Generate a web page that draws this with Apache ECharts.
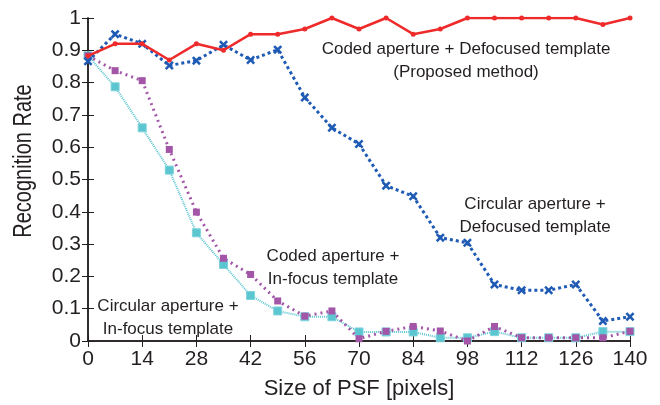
<!DOCTYPE html>
<html>
<head>
<meta charset="utf-8">
<script src="https://cdn.jsdelivr.net/npm/echarts@6/dist/echarts.min.js"></script>
<style>
  html, body { margin: 0; padding: 0; background: #fff; }
  #chart { width: 660px; height: 405px; }
</style>
</head>
<body>
<div id="chart"></div>
<script>
// PSF sizes (pixels)
const psf = [0, 7, 14, 21, 28, 35, 42, 49, 56, 63, 70, 77, 84, 91, 98, 105, 112, 119, 126, 133, 140];

// recognition rates
const codedDefocused = [0.883, 0.92, 0.92, 0.87, 0.92, 0.90, 0.95, 0.95, 0.966, 1.0, 0.966, 1.0, 0.95, 0.966, 1.0, 1.0, 1.0, 1.0, 1.0, 0.98, 1.0];
const circularDefocused = [0.866, 0.95, 0.92, 0.853, 0.868, 0.917, 0.87, 0.902, 0.754, 0.66, 0.61, 0.481, 0.448, 0.32, 0.304, 0.175, 0.157, 0.157, 0.175, 0.062, 0.075];
const codedInFocus = [0.883, 0.837, 0.806, 0.593, 0.399, 0.256, 0.206, 0.124, 0.077, 0.093, 0.007, 0.03, 0.045, 0.031, 0.0, 0.045, 0.01, 0.01, 0.01, 0.01, 0.03];
const circularInFocus = [0.883, 0.787, 0.66, 0.529, 0.335, 0.237, 0.141, 0.093, 0.075, 0.075, 0.028, 0.028, 0.028, 0.01, 0.01, 0.029, 0.01, 0.01, 0.01, 0.029, 0.029];

// annotation texts
const notes = [
    'Coded aperture + Defocused template\n(Proposed method)',
    'Circular aperture +\nDefocused template',
    'Coded aperture +\nIn-focus template',
    'Circular aperture +\nIn-focus template'
];

const font = 'Liberation Sans, Arial, sans-serif';
const ink = '#231f20';

function pairs(vals) {
    return psf.map((x, i) => [x, vals[i]]);
}

const chart = echarts.init(document.getElementById('chart'));

const crossPath = 'path://M2,0L5,3L8,0L10,2L7,5L10,8L8,10L5,7L2,10L0,8L3,5L0,2Z';

function note(text, x, y) {
    return {
        type: 'text', x: x, y: y, z: 10,
        style: { text: text, textAlign: 'center', textVerticalAlign: 'top',
            font: '17px ' + font, fill: ink, lineHeight: 23 }
    };
}

chart.setOption({
    animation: false,
    backgroundColor: '#fff',
    grid: { left: 88, right: 30, top: 18, bottom: 63, containLabel: false },
    xAxis: [{
        type: 'value', min: 0, max: 140, interval: 14,
        name: 'Size of PSF [pixels]', nameLocation: 'middle', nameGap: 37,
        nameTextStyle: { fontFamily: font, fontSize: 22, color: ink },
        axisLine: { lineStyle: { color: ink, width: 1.5 } },
        axisTick: { inside: true, length: 6, lineStyle: { color: ink } },
        axisLabel: { fontFamily: font, fontSize: 21, color: ink, margin: 8 },
        splitLine: { show: false }
    }, {
        type: 'value', min: 0, max: 140, interval: 14, position: 'top',
        axisLine: { lineStyle: { color: ink, width: 1.5 } },
        axisTick: { inside: true, length: 6, lineStyle: { color: ink } },
        axisLabel: { show: false },
        splitLine: { show: false }
    }],
    yAxis: [{
        type: 'value', min: 0, max: 1, interval: 0.1,
        axisLine: { show: true, lineStyle: { color: ink, width: 1.5 } },
        axisTick: { show: true, inside: true, length: 6, lineStyle: { color: ink } },
        axisLabel: { fontFamily: font, fontSize: 21, color: ink, margin: 7,
            formatter: v => (v === 0 || v === 1) ? String(v) : v.toFixed(1) },
        splitLine: { show: false }
    }, {
        type: 'value', min: 0, max: 1, interval: 0.1, position: 'right',
        axisLine: { show: true, lineStyle: { color: ink, width: 1.5 } },
        axisTick: { show: true, inside: true, length: 6, lineStyle: { color: ink } },
        axisLabel: { show: false },
        splitLine: { show: false }
    }],
    series: [{
        name: 'Circular aperture + In-focus template',
        type: 'line', data: pairs(circularInFocus), z: 2,
        symbol: 'rect', symbolSize: 8,
        lineStyle: { color: '#5bc5d0', width: 2, type: [1, 1] },
        itemStyle: { color: '#5bc5d0', borderColor: '#7fd3dc', borderWidth: 1 }
    }, {
        name: 'Coded aperture + In-focus template',
        type: 'line', data: pairs(codedInFocus), z: 3,
        symbol: 'rect', symbolSize: 7,
        lineStyle: { color: '#a356a8', width: 3, type: [2, 4] },
        itemStyle: { color: '#a356a8' }
    }, {
        name: 'Circular aperture + Defocused template',
        type: 'line', data: pairs(circularDefocused), z: 4,
        symbol: crossPath, symbolSize: 9,
        lineStyle: { color: '#1f5bb5', width: 3, type: [3, 3] },
        itemStyle: { color: '#1f5bb5' }
    }, {
        name: 'Coded aperture + Defocused template',
        type: 'line', data: pairs(codedDefocused), z: 5,
        symbol: 'circle', symbolSize: 5,
        lineStyle: { color: '#ee2a2a', width: 2.5 },
        itemStyle: { color: '#ee2a2a' }
    }],
    graphic: [
        // y axis title, narrow lettering, a little above the axis middle
        {
            type: 'text', x: 24, y: 161, rotation: Math.PI / 2, scaleX: 0.8,
            style: { text: 'Recognition Rate', textAlign: 'center', textVerticalAlign: 'middle',
                font: '25px ' + font, fill: ink }
        },
        note(notes[0], 466, 38),
        note(notes[1], 535, 193),
        note(notes[2], 333, 245),
        note(notes[3], 168, 295)
    ]
});
</script>
</body>
</html>
